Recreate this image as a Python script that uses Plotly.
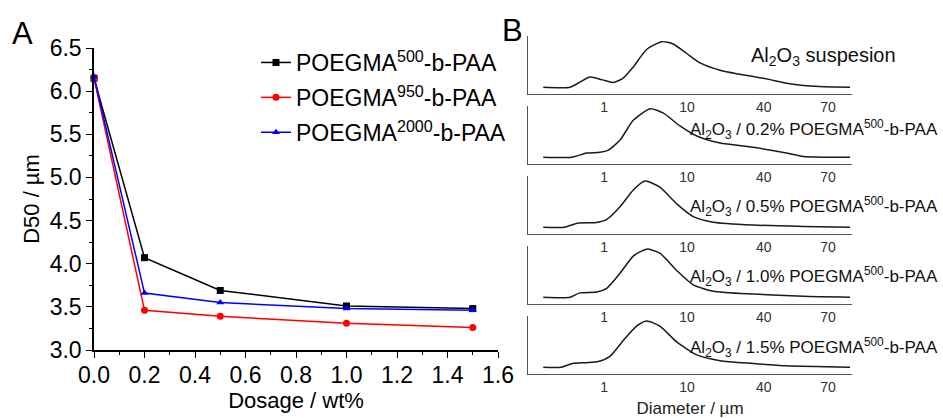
import plotly.graph_objects as go

# ---------------- Panel A data ----------------
dosage = [0.0, 0.2, 0.5, 1.0, 1.5]
d50_500 = [6.15, 4.07, 3.69, 3.51, 3.48]
d50_950 = [6.15, 3.46, 3.39, 3.31, 3.26]
d50_2000 = [6.17, 3.66, 3.55, 3.48, 3.46]
series_names = ["POEGMA<sup>500</sup>-b-PAA", "POEGMA<sup>950</sup>-b-PAA", "POEGMA<sup>2000</sup>-b-PAA"]

# ---------------- Panel B data ----------------
# x: position on the (non-uniform) diameter axis, y: relative intensity (a.u.)
diam_tick_pos = [23.5, 49.1, 72.8, 92.6]
diam_tick_text = ["1", "10", "40", "70"]

x_susp = [4.7, 13.0, 16.0, 19.1, 22.7, 26.3, 29.4, 32.5, 36.6, 41.3, 44.8, 49.0, 53.1, 59.3, 64.4, 69.5, 74.7, 79.8, 85.0, 90.1, 99.4]
y_susp = [0, 0, 5, 10, 7.5, 4.7, 9, 20, 37.3, 45, 42.7, 33.3, 24, 16.7, 13.3, 10.7, 7.5, 4, 1.7, 0.7, 0]

x_02 = [4.7, 13.5, 18.1, 22.2, 24.8, 28.4, 32.5, 37.7, 41.8, 46.9, 52.1, 59.3, 69.5, 79.8, 85.0, 99.4]
y_02 = [0, 0, 4.2, 4.8, 7, 16.9, 36.5, 47.8, 43.6, 30.9, 21, 14, 9.8, 4.2, 0.8, 0]

x_05 = [4.7, 11.3, 15.5, 21.2, 24.3, 28.4, 32.5, 36.1, 40.7, 45.9, 51.0, 57.2, 69.5, 85.0, 99.4]
y_05 = [0, 0, 4.1, 4.7, 7.7, 20.2, 36.8, 45.6, 39.5, 23, 10.5, 5, 2.2, 0.8, 0]

x_10 = [4.7, 13.0, 16.0, 21.2, 24.3, 28.4, 32.5, 36.6, 40.7, 45.9, 51.0, 57.2, 69.5, 85.0, 99.4]
y_10 = [0, 0, 4.3, 5.1, 8.8, 23.6, 40.6, 47.5, 43.5, 26.4, 12.2, 6, 3.1, 0.9, 0]

x_15 = [4.7, 10.2, 13.8, 18.1, 21.7, 25.3, 29.4, 33.5, 36.6, 40.7, 45.9, 52.1, 59.3, 69.5, 79.8, 99.4]
y_15 = [0, 0, 3.7, 4.5, 5.7, 10.8, 26.4, 40.6, 45.7, 40.6, 25, 12.2, 6.5, 3.7, 1.4, 0]

b_x = [x_susp, x_02, x_05, x_10, x_15]
b_y = [y_susp, y_02, y_05, y_10, y_15]
b_labels = [
    "Al<sub>2</sub>O<sub>3</sub> suspesion",
    "Al<sub>2</sub>O<sub>3</sub> / 0.2% POEGMA<sup>500</sup>-b-PAA",
    "Al<sub>2</sub>O<sub>3</sub> / 0.5% POEGMA<sup>500</sup>-b-PAA",
    "Al<sub>2</sub>O<sub>3</sub> / 1.0% POEGMA<sup>500</sup>-b-PAA",
    "Al<sub>2</sub>O<sub>3</sub> / 1.5% POEGMA<sup>500</sup>-b-PAA",
]

W, H = 943, 418
FONT = "Liberation Sans, Arial, sans-serif"

def px_x(p):
    return p / W

def px_y(p):
    return 1 - p / H

fig = go.Figure()

# Panel A traces
colors = ["#000000", "#ff0000", "#0000ff"]
symbols = ["square", "circle", "triangle-up"]
for i, ys in enumerate([d50_500, d50_950, d50_2000]):
    fig.add_trace(go.Scatter(
        x=dosage, y=ys, mode="lines+markers", name=series_names[i],
        line=dict(color=colors[i], width=1.5),
        marker=dict(color=colors[i], symbol=symbols[i], size=7),
        cliponaxis=False, xaxis="x", yaxis="y",
        legendgroup=str(i),
    ))

# Panel B traces
for k in range(5):
    fig.add_trace(go.Scatter(
        x=b_x[k], y=b_y[k], mode="lines",
        line=dict(color="#1a1a1a", width=1.5, shape="spline", smoothing=0.6),
        showlegend=False, xaxis=f"x{k+2}", yaxis=f"y{k+2}",
    ))

layout = dict(
    width=W, height=H,
    margin=dict(l=0, r=0, t=0, b=0, autoexpand=False),
    paper_bgcolor="white", plot_bgcolor="white",
    font=dict(family=FONT, color="#000"),
    showlegend=True,
    legend=dict(
        x=px_x(256), y=px_y(41), xanchor="left", yanchor="top",
        font=dict(size=23, family=FONT), bgcolor="rgba(0,0,0,0)",
        tracegroupgap=2, itemwidth=30,
    ),
    xaxis=dict(
        domain=[px_x(94), px_x(498)], anchor="y", range=[0, 1.6], automargin=False,
        dtick=0.2, tick0=0, tickformat=".1f", showline=True, linecolor="#000", linewidth=1.5,
        ticks="outside", ticklen=6, tickwidth=1.2, tickcolor="#000",
        minor=dict(ticks="outside", ticklen=3, dtick=0.1, tickcolor="#000", tickwidth=1.2),
        showgrid=False, zeroline=False, tickfont=dict(size=23), ticklabelstandoff=-2,
        title=dict(text="Dosage / wt%", font=dict(size=22), standoff=0),
    ),
    yaxis=dict(
        domain=[px_y(350), px_y(48)], anchor="x", range=[3.0, 6.5], automargin=False,
        dtick=0.5, tick0=3.0, tickformat=".1f", showline=True, linecolor="#000", linewidth=1.5,
        ticks="outside", ticklen=6, tickwidth=1.2, tickcolor="#000",
        minor=dict(ticks="outside", ticklen=3, dtick=0.25, tickcolor="#000", tickwidth=1.2),
        showgrid=False, zeroline=False, tickfont=dict(size=23),
        title=dict(text="D50 / µm", font=dict(size=22), standoff=4),
    ),
)

for k in range(5):
    top = 36 + 70 * k
    bot = 94 + 70 * k
    layout[f"xaxis{k+2}"] = dict(
        domain=[px_x(528), px_x(852)], anchor=f"y{k+2}", range=[0, 100], automargin=False,
        tickvals=diam_tick_pos, ticktext=diam_tick_text, ticks="",
        showline=True, linecolor="#555", linewidth=1.3, showgrid=False, zeroline=False,
        tickfont=dict(size=14, color="#333"),
        title=dict(text="Diameter / µm" if k == 4 else "", font=dict(size=17, color="#222"), standoff=8),
    )
    layout[f"yaxis{k+2}"] = dict(
        domain=[px_y(bot), px_y(top)], anchor=f"x{k+2}", range=[-6.7, 50.6], automargin=False,
        showline=True, linecolor="#555", linewidth=1.3, showticklabels=False, ticks="",
        showgrid=False, zeroline=False,
    )

annotations = [
    dict(text="A", x=px_x(10), y=px_y(33), xref="paper", yref="paper", xanchor="left", yanchor="middle",
         showarrow=False, font=dict(size=31, family=FONT)),
    dict(text="B", x=px_x(500), y=px_y(30), xref="paper", yref="paper", xanchor="left", yanchor="middle",
         showarrow=False, font=dict(size=31, family=FONT)),
]
label_y = [57, 129, 206, 276, 347]
for k in range(5):
    annotations.append(dict(
        text=b_labels[k], x=px_x(940 if k else 898), y=px_y(label_y[k]), xref="paper", yref="paper",
        xanchor="right", yanchor="middle", showarrow=False,
        font=dict(size=20 if k == 0 else 17, family=FONT, color="#111"),
    ))
layout["annotations"] = annotations

fig.update_layout(**layout)
fig.write_html(
    "out.html",
    config={"displayModeBar": False},
    post_script="document.body.style.margin='0';document.body.style.padding='0';",
)
